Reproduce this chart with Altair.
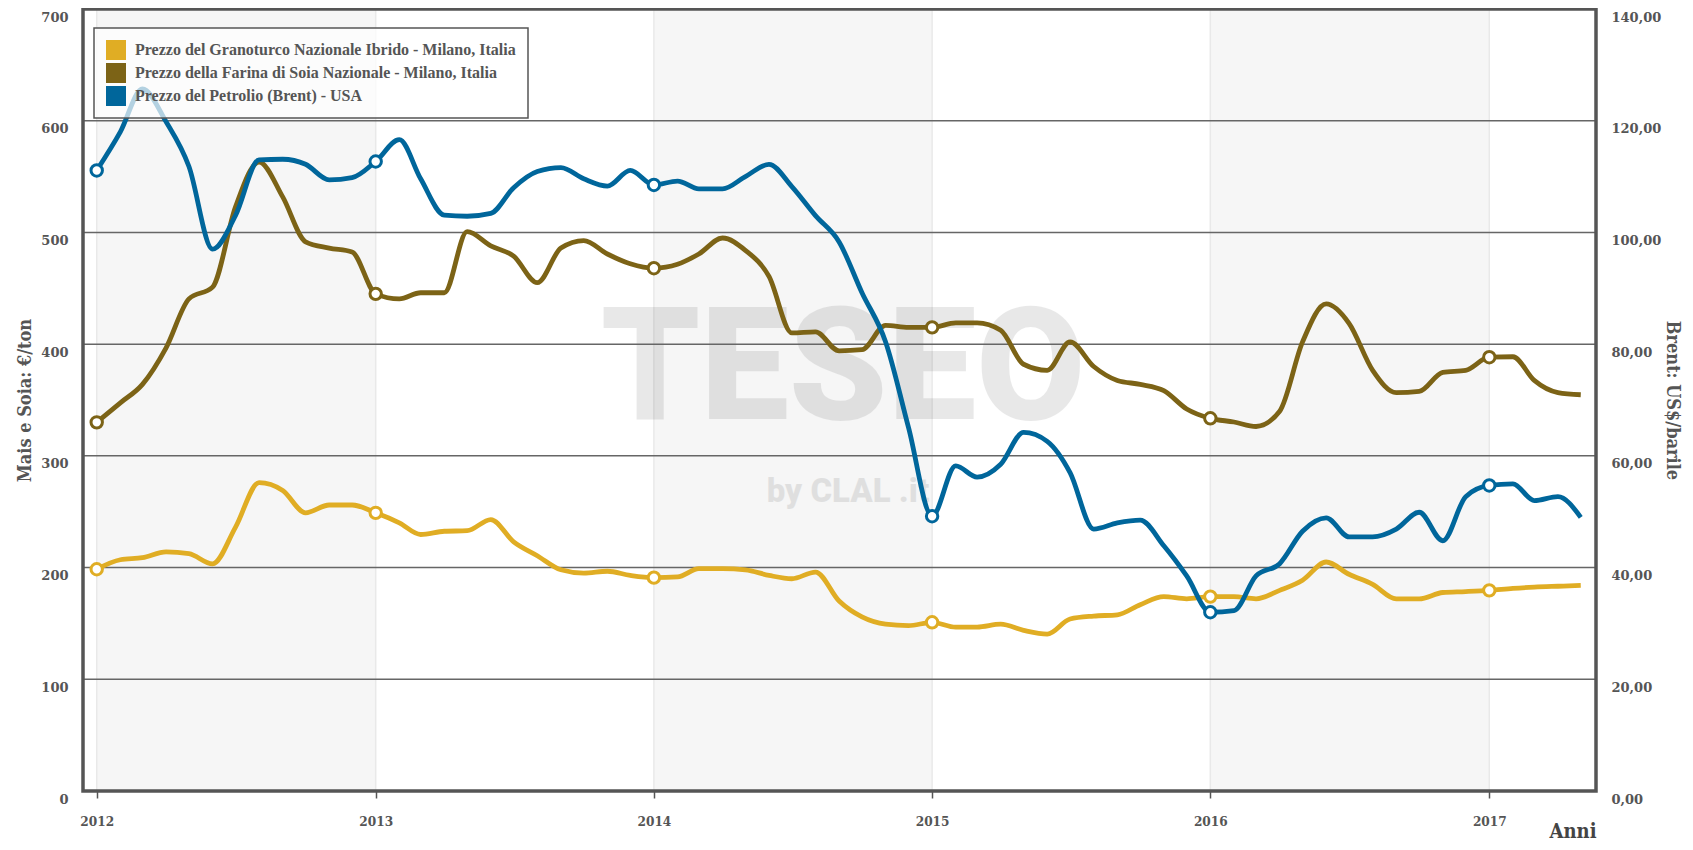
import altair as alt
import pandas as pd

SERIES = [
    "Prezzo del Granoturco Nazionale Ibrido - Milano, Italia",
    "Prezzo della Farina di Soia Nazionale - Milano, Italia",
    "Prezzo del Petrolio (Brent) - USA",
]
COLORS = ["#E0AD24", "#7C6316", "#00669B"]

YEARS = [2012, 2013, 2014, 2015, 2016, 2017]
DATES = [f"{2012 + i // 12}-{i % 12 + 1:02d}-01" for i in range(65)]

# Mais (€/ton) - left axis
corn = [198.5, 207, 208.8, 214, 212.4, 203.3, 236, 276, 269, 249, 256, 256,
        249, 240, 229.6, 232.5, 233, 243, 223, 210.6, 198, 195, 196.7, 193,
        191, 191.6, 199, 199, 198, 193, 190, 196, 170, 155.8, 149.3, 148,
        151, 146.7, 146.7, 149.3, 143.8, 140.5, 154, 156.6, 157.7, 166.8, 174, 172,
        174, 174, 172, 179.6, 188.7, 205, 194, 185, 172, 172, 177.7, 178.5,
        179.6, 181.4, 182.5, 183.3, 184]
# Soia (€/ton) - left axis
soy = [330, 347.5, 364, 396.7, 440.5, 451, 522.6, 563, 531.8, 491.6, 486, 482.5,
       445, 440.5, 446, 446, 500.7, 488, 478.8, 455, 486, 492.7, 480.7, 472,
       468, 471.5, 480.7, 495, 484, 460.6, 410, 411, 394, 395, 416.8, 415,
       415, 419, 419, 412.4, 382, 376.6, 402, 380, 367.5, 364, 358.4, 342,
       333.6, 330.3, 326.3, 340, 402, 436, 418.6, 376.6, 356.6, 357.7, 374.8, 376.6,
       388.3, 388.7, 367.5, 356.6, 354.7]
# Brent (US$/barile) - right axis
oil = [111.1, 118.0, 125.7, 119.8, 111.8, 97.0, 103.0, 113.0, 113.1, 112.2, 109.4, 109.8,
       112.7, 116.6, 109.6, 103.1, 102.9, 103.4, 108.0, 110.9, 111.6, 109.6, 108.3, 111.1,
       108.5, 109.2, 107.8, 107.8, 110.0, 112.2, 108.2, 103.0, 98.3, 89.2, 80.4, 65.1,
       49.2, 58.2, 56.2, 58.5, 64.2, 62.6, 57.0, 46.9, 48.0, 48.5, 43.9, 38.5,
       32.0, 32.3, 38.5, 40.7, 46.5, 48.9, 45.5, 45.5, 46.9, 49.9, 44.8, 52.7,
       54.7, 55.0, 52.0, 52.7, 49.0]

LEFT_TICKS = [0, 100, 200, 300, 400, 500, 600, 700]
RIGHT_TICKS = [0, 20, 40, 60, 80, 100, 120, 140]
GRID_VALUES = [100, 200, 300, 400, 500, 600]
BAND_YEARS = [2012, 2014, 2016]

left_df = pd.DataFrame({
    "date": DATES * 2,
    "series": [SERIES[0]] * len(corn) + [SERIES[1]] * len(soy),
    "value": corn + soy,
})
oil_df = pd.DataFrame({"date": DATES, "series": SERIES[2], "value": oil})
left_pts = left_df[left_df["date"].str.endswith("-01-01")]
oil_pts = oil_df[oil_df["date"].str.endswith("-01-01")]
bands = pd.DataFrame({"start": [f"{y}-01-01" for y in BAND_YEARS],
                      "end": [f"{y + 1}-01-01" for y in BAND_YEARS]})
year_lines = pd.DataFrame({"date": [f"{y}-01-01" for y in YEARS]})
grid_df = pd.DataFrame({"value": GRID_VALUES})
legend_df = pd.DataFrame({"date": ["2014-01-01"] * 3, "series": SERIES, "value": [-500] * 3})
wm_df = pd.DataFrame({"t": [1]})

W, H = 1513, 782
LABEL_COLOR = "#555555"

x_scale = alt.Scale(type="utc", domain=[
    alt.DateTime(year=2011, month=12, date=14, utc=True),
    alt.DateTime(year=2017, month=5, date=21, utc=True)])
x_axis = alt.Axis(
    values=[alt.DateTime(year=y, month=1, date=1, utc=True) for y in YEARS],
    labelExpr="utcFormat(datum.value, '%Y')",
    grid=False, domain=False, ticks=True, tickColor="#555555", tickWidth=1.5, tickSize=7,
    labelPadding=16, labelFont="DejaVu Serif Condensed", labelFontWeight="bold",
    labelFontSize=13.5, labelColor=LABEL_COLOR,
    titleFont="DejaVu Serif Condensed", titleFontWeight="bold", titleFontSize=20,
    titleColor="#444444", titleAnchor="end", titleAlign="right", titleBaseline="bottom",
    titleY=50,
)

def X(field):
    return alt.X(field, type="temporal", scale=x_scale, axis=x_axis, title="Anni")

left_scale = alt.Scale(domain=[0, 700], nice=False, zero=True)
right_scale = alt.Scale(domain=[0, 140], nice=False, zero=True)

left_axis = alt.Axis(
    values=LEFT_TICKS, grid=False, domain=False, ticks=False, labelPadding=15, labelOffset=8,
    labelFont="DejaVu Serif", labelFontWeight="bold", labelFontSize=13, labelColor=LABEL_COLOR,
    titleFont="DejaVu Serif Condensed", titleFontWeight="bold", titleFontSize=18,
    titleColor=LABEL_COLOR, titlePadding=6,
)
right_axis = alt.Axis(
    orient="right", values=RIGHT_TICKS, grid=False, domain=False, ticks=False,
    labelPadding=15, labelOffset=8,
    labelExpr="replace(format(datum.value, '.2f'), '.', ',')",
    labelFont="DejaVu Serif", labelFontWeight="bold", labelFontSize=13, labelColor=LABEL_COLOR,
    titleFont="DejaVu Serif Condensed", titleFontWeight="bold", titleFontSize=18,
    titleColor=LABEL_COLOR, titlePadding=2, titleAngle=90,
)

color_scale = alt.Scale(domain=SERIES, range=COLORS)

band_layer = alt.Chart(bands).mark_rect(color="#f6f6f6").encode(
    x=X("start"), x2="end:T")
year_rules = alt.Chart(year_lines).mark_rule(color="#e9e9e9", strokeWidth=1.5).encode(
    x=X("date"))
grid_rules = alt.Chart(grid_df).mark_rule(color="#666666", strokeWidth=1.5).encode(
    y=alt.Y("value:Q", scale=left_scale, axis=left_axis, title="Mais e Soia: €/ton"))
wm1 = alt.Chart(wm_df).mark_text(
    text="TESEO", font="Roboto", fontWeight=900, fontSize=158, color="#000000",
    opacity=0.085, align="center", baseline="middle").encode(
    x=alt.value(760), y=alt.value(363))
wm2 = alt.Chart(wm_df).mark_text(
    text="by CLAL .it", font="Roboto", fontWeight=900, fontSize=33, color="#000000",
    opacity=0.085, align="center", baseline="middle").encode(
    x=alt.value(765), y=alt.value(483))

legend_layer = alt.Chart(legend_df).mark_square(size=400, clip=True, opacity=1).encode(
    x=X("date"),
    y=alt.Y("value:Q", scale=left_scale, axis=left_axis, title="Mais e Soia: €/ton"),
    fill=alt.Fill("series:N", scale=color_scale, sort=SERIES, title=None, legend=alt.Legend(
        orient="none", legendX=11, legendY=19, direction="vertical",
        symbolType="square", symbolSize=400, symbolStrokeWidth=0, symbolOpacity=1,
        labelFont="Liberation Serif", labelFontWeight="bold", labelFontSize=16,
        labelColor=LABEL_COLOR, labelLimit=600, labelOffset=9, rowPadding=3,
        padding=12, fillColor="rgba(255,255,255,0.7)", strokeColor="#555555")),
)

left_lines = alt.Chart(left_df).mark_line(interpolate="monotone", strokeWidth=4.8).encode(
    x=X("date"),
    y=alt.Y("value:Q", scale=left_scale, axis=left_axis, title="Mais e Soia: €/ton"),
    color=alt.Color("series:N", scale=color_scale, legend=None),
    detail="series:N",
)
left_points = alt.Chart(left_pts).mark_point(
    shape="circle", filled=True, fill="white", size=130, strokeWidth=3, opacity=1).encode(
    x=X("date"),
    y=alt.Y("value:Q", scale=left_scale, axis=left_axis, title="Mais e Soia: €/ton"),
    stroke=alt.Stroke("series:N", scale=color_scale, legend=None),
)
border = alt.Chart(wm_df).mark_rect(fillOpacity=0, stroke="#555555", strokeWidth=3.5).encode(
    x=alt.value(0), x2=alt.value(W), y=alt.value(0), y2=alt.value(H))

left = alt.layer(band_layer, year_rules, wm1, wm2, grid_rules, legend_layer,
                 left_lines, left_points, border)

oil_line = alt.Chart(oil_df).mark_line(interpolate="monotone", strokeWidth=4.8).encode(
    x=X("date"),
    y=alt.Y("value:Q", scale=right_scale, axis=right_axis, title="Brent: US$/barile"),
    color=alt.Color("series:N", scale=color_scale, legend=None),
)
oil_points = alt.Chart(oil_pts).mark_point(
    shape="circle", filled=True, fill="white", size=130, strokeWidth=3, opacity=1).encode(
    x=X("date"),
    y=alt.Y("value:Q", scale=right_scale, axis=right_axis, title="Brent: US$/barile"),
    stroke=alt.Stroke("series:N", scale=color_scale, legend=None),
)
right = alt.layer(oil_line, oil_points)

chart = alt.layer(left, right).resolve_scale(y="independent").properties(
    width=W, height=H,
    autosize=alt.AutoSizeParams(type="none"),
    padding={"left": 75, "top": 1, "right": 89, "bottom": 51},
    background="white",
).configure_view(stroke=None).configure_legend(strokeWidth=1.5)

chart.save("out.html", embed_options={"renderer": "svg", "actions": False})
